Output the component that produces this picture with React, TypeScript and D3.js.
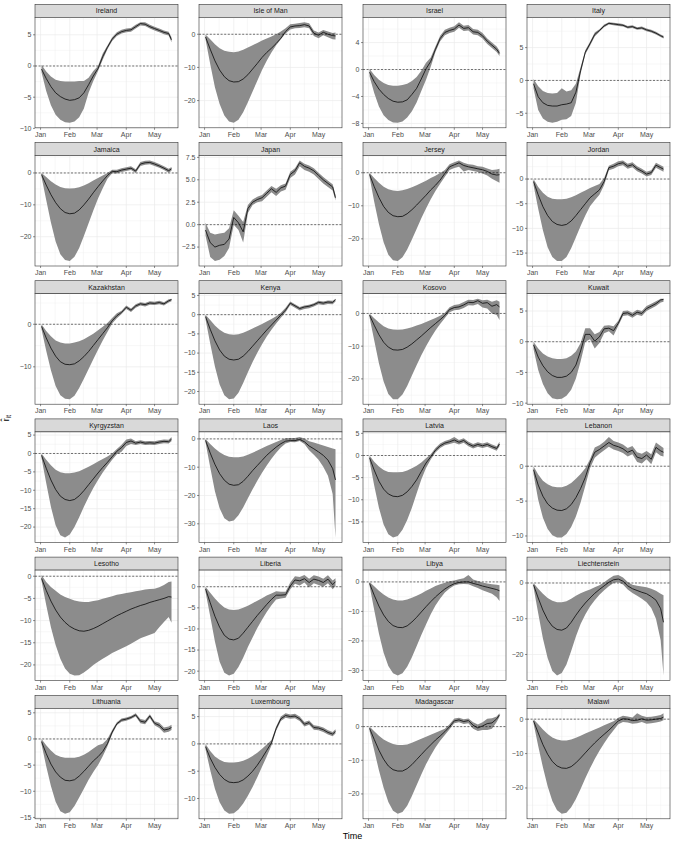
import React from 'react';
import * as d3 from 'd3';

// Day-of-year offsets (0 = Jan 1, 2020) at which the estimates are read
const DAYS = [1, 6, 11, 16, 21, 26, 31, 36, 41, 46, 51, 56, 61, 66, 71, 76, 81, 86, 91, 96, 101, 106, 111, 116, 121, 126, 131, 136, 139];
const MONTH_DAYS = [0, 31, 60, 91, 121];
const MONTH_LABELS = ['Jan', 'Feb', 'Mar', 'Apr', 'May'];

const irelandMean = [-0.5,-2.0,-3.3,-4.3,-4.9,-5.3,-5.5,-5.4,-5.1,-4.3,-3.0,-1.6,-0.4,1.5,3.0,4.3,5.1,5.5,5.7,5.8,6.3,6.8,6.7,6.3,6.0,5.7,5.4,5.2,4.2];
const irelandLo = [-1.0,-4.0,-6.3,-7.8,-8.6,-9.0,-9.1,-8.9,-8.2,-6.8,-4.3,-2.4,-0.8,1.0,2.7,4.0,4.8,5.2,5.4,5.5,6.0,6.5,6.4,6.0,5.7,5.4,5.1,4.9,3.8];
const irelandHi = [0.2,-0.9,-1.7,-2.2,-2.4,-2.5,-2.5,-2.5,-2.4,-2.4,-1.9,-0.8,0.0,2.0,3.3,4.6,5.4,5.8,6.0,6.1,6.6,7.0,7.0,6.6,6.3,6.0,5.7,5.5,4.6];
const irelandTicks = [-10, -5, 0, 5];

const isleOfManMean = [-0.8,-4.5,-8.0,-10.8,-12.8,-14.0,-14.4,-14.3,-13.5,-12.2,-10.5,-8.8,-7.0,-5.5,-4.2,-2.8,-1.2,0.8,2.2,2.5,2.6,2.9,2.5,0.3,-0.3,0.6,0.0,-0.4,-0.5];
const isleOfManLo = [-1.5,-9.0,-16.0,-21.0,-24.5,-26.3,-26.7,-25.8,-23.5,-20.5,-17.3,-14.0,-10.8,-8.0,-5.5,-3.3,-1.5,0.2,1.4,1.8,1.9,2.1,1.8,-0.5,-1.2,-0.3,-0.9,-1.5,-1.6];
const isleOfManHi = [-0.1,-1.5,-3.0,-4.2,-5.0,-5.3,-5.4,-5.2,-4.7,-4.0,-3.3,-2.6,-1.9,-1.3,-0.7,0.0,0.8,1.8,3.0,3.2,3.4,3.6,3.3,1.1,0.5,1.3,0.8,0.4,0.5];
const isleOfManTicks = [-20, -10, 0];

const israelMean = [-0.4,-1.8,-2.9,-3.7,-4.3,-4.7,-4.85,-4.8,-4.5,-3.7,-2.8,-1.4,0.1,1.2,3.0,4.6,5.5,5.8,6.0,6.6,6.1,6.2,5.6,5.5,5.0,4.2,3.6,3.0,2.4];
const israelLo = [-1.0,-3.5,-5.5,-6.8,-7.5,-7.85,-7.9,-7.7,-7.1,-6.2,-4.9,-3.2,-1.5,0.4,2.6,4.2,5.1,5.4,5.6,6.2,5.7,5.8,5.2,5.1,4.6,3.8,3.2,2.6,2.0];
const israelHi = [0.1,-0.8,-1.5,-2.0,-2.3,-2.4,-2.4,-2.3,-2.1,-1.7,-1.1,-0.2,1.0,1.8,3.4,5.0,5.9,6.2,6.4,7.0,6.5,6.6,6.0,5.9,5.4,4.6,4.0,3.4,2.8];
const israelTicks = [-8, -4, 0, 4];

const italyMean = [-0.5,-2.5,-3.4,-3.8,-3.9,-3.9,-3.7,-3.6,-3.4,-1.8,1.5,4.3,5.6,7.0,7.6,8.3,8.7,8.6,8.5,8.4,8.1,8.2,7.9,8.0,7.7,7.5,7.2,6.8,6.6];
const italyLo = [-1.2,-4.5,-5.8,-6.3,-6.45,-6.3,-6.0,-5.9,-5.4,-3.4,1.0,4.0,5.3,6.7,7.4,8.1,8.5,8.4,8.3,8.2,7.9,8.0,7.7,7.8,7.5,7.3,7.0,6.6,6.4];
const italyHi = [0.2,-0.9,-1.6,-1.9,-2.0,-1.9,-1.2,-1.7,-1.5,-0.5,2.0,4.6,5.9,7.3,7.8,8.5,8.85,8.8,8.7,8.6,8.3,8.4,8.1,8.2,7.9,7.7,7.4,7.0,6.8];
const italyTicks = [-5, 0, 5];

const jamaicaMean = [-0.5,-3.8,-6.8,-9.3,-11.2,-12.4,-12.8,-12.6,-11.6,-10.0,-8.2,-6.2,-4.3,-2.5,-0.8,0.5,0.4,0.9,1.2,1.5,0.6,2.8,3.2,3.3,2.8,2.2,1.5,0.7,1.3];
const jamaicaLo = [-1.2,-8.5,-15.5,-21.5,-25.5,-27.3,-27.6,-26.3,-23.5,-19.8,-15.8,-11.8,-8.0,-4.8,-1.8,-0.1,-0.2,0.3,0.6,0.9,0.0,2.2,2.6,2.7,2.2,1.6,0.9,0.1,0.7];
const jamaicaHi = [0.0,-1.3,-2.6,-3.6,-4.4,-4.8,-4.9,-4.8,-4.5,-3.9,-3.2,-2.4,-1.6,-0.8,0.0,1.0,1.0,1.5,1.8,2.1,1.2,3.4,3.8,3.9,3.4,2.8,2.1,1.3,1.9];
const jamaicaTicks = [-20, -10, 0];

const japanMean = [-0.6,-2.0,-2.5,-2.3,-2.2,-1.6,0.8,0.2,-0.8,1.8,2.5,2.8,3.0,3.5,4.0,3.6,4.1,4.3,5.6,6.0,6.9,6.5,6.3,6.0,5.5,5.0,4.6,4.2,3.0];
const japanLo = [-1.2,-3.6,-4.05,-3.9,-3.5,-2.6,0.0,-0.6,-2.0,1.3,2.2,2.5,2.6,3.1,3.6,3.2,3.7,3.9,5.2,5.6,6.5,6.1,5.9,5.6,5.1,4.6,4.2,3.8,2.7];
const japanHi = [0.2,-0.9,-1.1,-1.0,-0.9,-0.4,1.6,1.0,0.3,2.2,2.8,3.1,3.3,3.8,4.3,4.0,4.4,4.6,5.9,6.3,7.15,6.8,6.6,6.3,5.8,5.3,4.9,4.5,3.3];
const japanTicks = [-2.5, 0, 2.5, 5, 7.5];

const jerseyMean = [-0.5,-4.2,-7.5,-10.2,-12.0,-13.0,-13.3,-13.2,-12.4,-11.2,-9.8,-8.3,-6.8,-5.2,-3.8,-2.2,-0.2,1.8,2.4,3.0,2.2,1.8,1.5,1.2,0.9,0.4,-0.4,-0.7,-0.6];
const jerseyLo = [-1.2,-8.8,-15.5,-21.0,-24.8,-26.5,-26.7,-25.6,-23.2,-20.2,-17.0,-13.8,-10.8,-8.0,-5.5,-3.3,-1.2,0.8,1.4,1.8,0.4,0.8,0.5,0.2,-0.2,-0.8,-1.8,-2.6,-3.0];
const jerseyHi = [0.0,-1.6,-3.0,-4.2,-5.0,-5.4,-5.5,-5.3,-4.9,-4.4,-3.8,-3.1,-2.4,-1.6,-0.9,-0.1,0.8,2.6,3.2,3.7,3.0,2.6,2.4,2.0,1.8,1.3,0.8,1.0,1.2];
const jerseyTicks = [-20, -10, 0];

const jordanMean = [-0.5,-3.2,-5.6,-7.4,-8.6,-9.2,-9.4,-9.2,-8.5,-7.4,-6.2,-5.0,-3.8,-3.0,-2.2,-0.5,2.3,2.6,3.1,3.3,2.6,2.9,2.1,1.6,1.0,1.3,2.8,2.3,2.0];
const jordanLo = [-1.2,-6.0,-10.4,-13.8,-15.8,-16.6,-16.6,-15.8,-14.0,-11.8,-9.5,-7.4,-5.5,-4.3,-3.2,-1.2,1.8,2.1,2.6,2.8,2.1,2.4,1.6,1.1,0.5,0.8,2.3,1.8,1.5];
const jordanHi = [0.0,-1.6,-2.8,-3.6,-4.0,-4.1,-4.1,-4.0,-3.7,-3.3,-2.8,-2.3,-1.8,-1.4,-1.0,0.2,2.7,3.1,3.6,3.75,3.1,3.4,2.6,2.1,1.5,1.8,3.3,2.8,2.5];
const jordanTicks = [-15, -10, -5, 0];

const kazakhstanMean = [-0.5,-3.2,-5.6,-7.5,-8.8,-9.4,-9.5,-9.3,-8.6,-7.6,-6.4,-5.0,-3.6,-2.2,-0.8,0.8,2.0,2.8,4.0,3.3,4.3,4.8,4.6,5.0,4.9,5.1,4.8,5.5,5.8];
const kazakhstanLo = [-1.2,-6.2,-10.8,-14.5,-16.7,-17.5,-17.6,-16.8,-15.0,-12.8,-10.5,-8.2,-6.0,-3.8,-1.8,0.2,1.4,2.4,3.6,2.9,3.9,4.4,4.2,4.6,4.5,4.7,4.4,5.1,5.4];
const kazakhstanHi = [0.0,-1.6,-2.8,-3.8,-4.3,-4.5,-4.5,-4.3,-4.0,-3.5,-2.9,-2.2,-1.4,-0.6,0.3,1.5,2.6,3.2,4.4,3.7,4.7,5.2,5.0,5.4,5.3,5.5,5.2,5.9,6.0];
const kazakhstanTicks = [-10, 0];

const kenyaMean = [-0.5,-3.8,-6.8,-9.2,-10.8,-11.6,-11.8,-11.6,-10.8,-9.6,-8.2,-6.8,-5.4,-4.0,-2.7,-1.4,-0.1,1.2,3.0,2.3,1.6,2.0,2.2,2.6,3.2,3.0,3.3,3.2,3.9];
const kenyaLo = [-1.2,-7.5,-13.5,-18.2,-21.0,-22.0,-21.8,-20.3,-17.8,-15.0,-12.3,-9.9,-7.7,-5.7,-3.9,-2.3,-0.8,0.6,2.5,1.8,1.1,1.5,1.7,2.1,2.7,2.5,2.8,2.7,3.4];
const kenyaHi = [0.0,-1.4,-2.8,-3.9,-4.7,-5.1,-5.2,-5.1,-4.7,-4.2,-3.6,-3.0,-2.4,-1.8,-1.1,-0.4,0.5,1.8,3.4,2.7,2.0,2.4,2.6,3.0,3.6,3.4,3.7,3.6,4.15];
const kenyaTicks = [-20, -15, -10, -5, 0, 5];

const kosovoMean = [-0.5,-3.6,-6.5,-8.8,-10.3,-11.1,-11.2,-11.0,-10.3,-9.3,-8.1,-6.9,-5.6,-4.3,-3.1,-1.9,-0.6,1.2,1.8,2.0,2.6,3.4,3.3,3.9,3.1,3.3,2.2,2.7,2.0];
const kosovoLo = [-1.2,-8.2,-15.2,-20.8,-24.6,-26.2,-26.2,-24.8,-22.2,-19.0,-15.8,-12.8,-10.0,-7.5,-5.2,-3.2,-1.4,0.4,1.0,1.1,1.7,2.5,2.4,2.9,1.8,1.5,0.0,-0.5,-2.0];
const kosovoHi = [0.0,-1.5,-2.8,-3.9,-4.6,-4.9,-5.0,-4.9,-4.6,-4.2,-3.7,-3.2,-2.6,-2.0,-1.4,-0.7,0.2,1.9,2.6,2.8,3.5,4.2,4.1,4.5,4.0,4.2,3.6,4.0,3.6];
const kosovoTicks = [-20, -10, 0];

const kuwaitMean = [-0.5,-2.5,-3.9,-4.9,-5.5,-5.8,-5.8,-5.6,-5.0,-3.8,-1.5,1.2,1.2,0.1,0.8,2.1,2.2,1.8,3.0,4.6,4.7,4.3,4.8,4.6,5.4,5.8,6.2,6.8,6.9];
const kuwaitLo = [-1.2,-4.6,-6.9,-8.4,-9.2,-9.35,-9.3,-8.8,-7.8,-6.0,-3.2,0.0,0.4,-1.1,-0.2,1.4,1.7,1.0,2.6,4.2,4.3,3.9,4.4,4.2,5.0,5.4,5.8,6.4,6.5];
const kuwaitHi = [0.0,-1.1,-1.9,-2.4,-2.7,-2.8,-2.8,-2.7,-2.3,-1.6,-0.2,2.2,2.2,1.2,1.6,2.6,2.7,2.5,3.4,5.0,5.1,4.7,5.2,5.0,5.8,6.2,6.6,7.0,7.0];
const kuwaitTicks = [-10, -5, 0, 5];

const kyrgyzstanMean = [-0.5,-4.0,-7.2,-9.8,-11.6,-12.5,-12.8,-12.5,-11.5,-10.1,-8.5,-6.9,-5.3,-3.8,-2.4,-0.9,0.6,1.6,3.0,3.4,2.8,3.1,2.8,2.9,2.8,3.1,3.3,3.2,3.9];
const kyrgyzstanLo = [-1.2,-8.0,-14.5,-19.5,-22.2,-22.8,-22.0,-20.0,-17.3,-14.5,-11.8,-9.4,-7.2,-5.2,-3.4,-1.7,-0.2,0.5,2.0,2.6,2.3,2.6,2.3,2.4,2.3,2.6,2.8,2.7,3.3];
const kyrgyzstanHi = [0.0,-1.7,-3.2,-4.4,-5.1,-5.4,-5.4,-5.2,-4.8,-4.2,-3.6,-2.9,-2.2,-1.5,-0.8,0.0,1.2,2.4,3.8,4.1,3.3,3.6,3.3,3.4,3.3,3.6,3.8,3.7,4.5];
const kyrgyzstanTicks = [-20, -15, -10, -5, 0, 5];

const laosMean = [-0.5,-5.0,-9.0,-12.3,-14.6,-16.0,-16.4,-16.2,-15.0,-13.2,-11.2,-9.4,-7.6,-5.8,-4.3,-2.9,-1.7,-0.8,-0.6,-0.6,-0.2,-1.0,-2.5,-3.5,-4.6,-5.8,-7.5,-10.5,-14.5];
const laosLo = [-1.2,-10.0,-18.5,-24.5,-28.0,-29.2,-28.8,-27.0,-24.2,-21.0,-17.8,-14.8,-12.0,-9.4,-7.0,-4.9,-3.0,-1.6,-1.1,-1.2,-0.7,-1.8,-4.0,-5.6,-7.4,-9.8,-13.0,-19.5,-34.8];
const laosHi = [0.0,-1.8,-3.4,-4.7,-5.7,-6.3,-6.5,-6.5,-6.2,-5.6,-4.9,-4.1,-3.3,-2.5,-1.8,-1.1,-0.4,0.2,0.3,0.3,0.7,0.1,-0.8,-1.3,-1.8,-2.3,-2.9,-3.4,-3.7];
const laosTicks = [-30, -20, -10, 0];

const latviaMean = [-0.5,-3.3,-5.8,-7.6,-8.7,-9.2,-9.3,-9.0,-8.2,-7.0,-5.5,-3.6,-1.7,-0.3,1.2,2.2,2.8,3.1,3.5,3.0,3.4,2.6,2.1,2.5,2.2,2.5,2.0,1.6,2.6];
const latviaLo = [-1.2,-6.8,-11.8,-15.6,-17.8,-18.5,-18.2,-16.8,-14.6,-11.8,-8.6,-5.4,-2.8,-0.9,0.7,1.7,2.3,2.6,2.9,2.5,2.9,2.1,1.6,2.0,1.7,2.0,1.5,1.1,2.1];
const latviaHi = [0.0,-1.4,-2.5,-3.3,-3.7,-3.8,-3.8,-3.7,-3.4,-2.9,-2.3,-1.6,-0.6,0.3,1.7,2.7,3.3,3.6,4.2,3.5,3.9,3.1,2.6,3.0,2.7,3.0,2.5,2.1,3.1];
const latviaTicks = [-15, -10, -5, 0, 5];

const lebanonMean = [-0.5,-2.7,-4.3,-5.4,-6.0,-6.3,-6.35,-6.1,-5.5,-4.5,-3.2,-1.6,0.5,2.0,2.4,2.9,3.4,3.0,2.8,2.5,2.0,2.3,1.3,1.1,1.6,1.0,2.7,2.2,2.0];
const lebanonLo = [-1.1,-4.8,-7.4,-9.0,-9.9,-10.2,-10.2,-9.7,-8.7,-7.2,-5.2,-2.8,-0.3,1.2,1.8,2.3,2.8,2.4,2.2,1.9,1.4,1.7,0.6,0.4,1.0,0.3,2.0,1.5,1.4];
const lebanonHi = [0.0,-1.2,-2.1,-2.6,-2.9,-3.0,-3.0,-2.8,-2.4,-1.8,-1.1,-0.3,1.0,2.7,3.0,3.5,4.2,3.6,3.4,3.1,2.6,2.9,2.0,1.8,2.2,1.7,3.4,2.9,2.6];
const lebanonTicks = [-10, -5, 0];

const lesothoMean = [-0.5,-3.2,-5.6,-7.6,-9.2,-10.4,-11.3,-11.9,-12.3,-12.4,-12.2,-11.8,-11.3,-10.7,-10.1,-9.5,-8.9,-8.4,-7.9,-7.4,-7.0,-6.6,-6.3,-5.9,-5.6,-5.3,-5.0,-4.6,-4.7];
const lesothoLo = [-1.0,-6.5,-11.5,-15.5,-18.6,-20.8,-22.0,-22.4,-22.3,-21.7,-20.9,-20.0,-19.3,-18.6,-18.0,-17.3,-16.8,-16.3,-15.8,-15.2,-14.6,-14.0,-13.6,-13.2,-12.8,-11.5,-10.3,-9.2,-10.5];
const lesothoHi = [0.25,-1.3,-2.4,-3.3,-4.1,-4.7,-5.1,-5.5,-5.7,-5.8,-5.8,-5.6,-5.4,-5.1,-4.8,-4.5,-4.2,-4.0,-3.8,-3.6,-3.4,-3.2,-3.0,-2.9,-2.8,-2.5,-2.0,-1.3,-1.2];
const lesothoTicks = [-20, -15, -10, -5, 0];

const liberiaMean = [-0.5,-3.8,-7.0,-9.6,-11.5,-12.4,-12.6,-12.2,-11.0,-9.6,-8.2,-6.8,-5.5,-4.2,-3.0,-2.0,-2.0,-1.9,0.2,1.6,1.4,1.9,1.0,1.8,1.5,1.0,1.8,0.5,1.2];
const liberiaLo = [-1.2,-7.0,-13.0,-17.8,-20.4,-21.05,-20.6,-19.0,-16.8,-14.3,-12.0,-9.8,-7.8,-6.0,-4.4,-3.0,-2.8,-2.6,-0.6,0.7,0.3,1.0,-0.2,0.8,0.4,0.0,0.8,-0.6,0.2];
const liberiaHi = [0.0,-1.4,-2.8,-4.0,-4.9,-5.4,-5.5,-5.4,-5.0,-4.5,-3.9,-3.3,-2.7,-2.1,-1.6,-1.1,-1.2,-1.2,1.0,2.5,2.3,2.75,1.9,2.7,2.4,1.9,2.7,1.5,2.0];
const liberiaTicks = [-20, -15, -10, -5, 0];

const libyaMean = [-0.5,-4.5,-8.2,-11.2,-13.4,-14.8,-15.4,-15.5,-14.9,-13.6,-12.0,-10.2,-8.4,-6.7,-5.1,-3.7,-2.4,-1.4,-0.6,-0.2,0.0,0.0,-0.5,-0.9,-1.4,-1.8,-2.2,-2.6,-3.0];
const libyaLo = [-1.2,-9.5,-17.5,-24.0,-28.5,-31.0,-31.75,-31.0,-28.8,-25.5,-21.8,-18.0,-14.4,-11.0,-8.0,-5.6,-3.6,-2.2,-1.2,-0.8,-0.7,-0.8,-1.5,-2.1,-2.8,-3.4,-4.0,-5.2,-6.5];
const libyaHi = [0.0,-1.5,-3.0,-4.3,-5.3,-6.0,-6.3,-6.3,-6.0,-5.4,-4.7,-3.9,-3.0,-2.2,-1.4,-0.8,-0.3,0.2,0.5,0.9,1.2,2.3,0.8,0.3,-0.2,-0.5,-0.8,-1.0,-1.1];
const libyaTicks = [-30, -20, -10, 0];

const liechtensteinMean = [-0.5,-4.2,-7.6,-10.3,-12.1,-13.0,-13.2,-12.6,-11.0,-9.0,-7.2,-5.6,-4.2,-2.9,-1.8,-0.8,0.2,0.9,1.1,0.5,-0.8,-1.6,-2.1,-2.6,-3.0,-3.8,-4.8,-7.2,-11.0];
const liechtensteinLo = [-1.2,-8.5,-15.5,-21.0,-24.6,-25.9,-25.2,-22.8,-19.0,-15.0,-11.5,-8.8,-6.6,-4.8,-3.3,-2.0,-0.9,0.0,0.2,-0.4,-1.8,-2.8,-3.6,-4.4,-5.4,-7.0,-10.0,-16.0,-25.9];
const liechtensteinHi = [0.0,-1.6,-3.0,-4.2,-5.0,-5.4,-5.4,-5.1,-4.4,-3.6,-2.9,-2.3,-1.8,-1.2,-0.6,0.2,1.2,2.0,2.2,1.5,0.3,-0.5,-0.8,-1.0,-1.2,-1.6,-2.2,-3.0,-3.4];
const liechtensteinTicks = [-20, -10, 0];

const lithuaniaMean = [-0.5,-2.8,-4.8,-6.3,-7.3,-7.9,-8.0,-7.8,-7.1,-6.2,-5.2,-4.2,-3.4,-2.4,-0.9,1.3,2.9,3.6,3.8,4.1,4.6,3.4,3.2,4.4,3.0,2.6,1.7,1.9,2.2];
const lithuaniaLo = [-1.0,-5.2,-9.0,-12.0,-13.8,-14.3,-14.0,-12.8,-11.2,-9.5,-7.8,-6.3,-5.0,-3.3,-1.4,0.9,2.6,3.3,3.5,3.8,4.3,3.0,2.8,4.0,2.6,2.1,1.2,1.4,1.7];
const lithuaniaHi = [0.0,-1.2,-2.2,-3.0,-3.4,-3.6,-3.6,-3.6,-3.4,-3.0,-2.5,-1.8,-1.2,-0.9,0.0,1.7,3.2,3.9,4.1,4.4,4.9,3.8,3.6,4.7,3.4,3.1,2.2,2.4,2.7];
const lithuaniaTicks = [-15, -10, -5, 0, 5];

const luxembourgMean = [-0.5,-2.6,-4.3,-5.6,-6.5,-7.0,-7.1,-7.0,-6.6,-5.9,-5.0,-3.9,-2.6,-1.2,0.2,2.8,4.6,5.2,5.0,5.1,4.6,3.6,3.9,3.0,2.9,2.6,2.1,1.8,2.3];
const luxembourgLo = [-1.0,-4.8,-8.2,-10.7,-12.2,-12.8,-12.7,-12.0,-10.9,-9.5,-7.9,-6.1,-4.2,-2.3,-0.3,2.4,4.2,4.8,4.6,4.7,4.2,3.2,3.5,2.6,2.5,2.2,1.7,1.4,1.9];
const luxembourgHi = [0.0,-1.3,-2.3,-2.9,-3.3,-3.4,-3.4,-3.3,-3.1,-2.7,-2.2,-1.6,-0.9,-0.1,0.7,3.2,5.0,5.6,5.4,5.5,5.0,4.0,4.3,3.4,3.3,3.0,2.5,2.2,2.7];
const luxembourgTicks = [-10, -5, 0, 5];

const madagascarMean = [-0.5,-3.8,-7.0,-9.7,-11.7,-12.8,-13.2,-13.2,-12.5,-11.3,-9.8,-8.3,-6.8,-5.4,-4.0,-2.8,-1.5,0.0,1.7,2.0,1.5,1.8,0.4,-0.4,0.2,0.9,1.1,2.3,3.5];
const madagascarLo = [-1.2,-7.0,-13.0,-18.2,-22.4,-25.0,-25.9,-25.4,-23.5,-20.6,-17.4,-14.2,-11.2,-8.6,-6.2,-4.2,-2.5,-0.8,1.0,1.3,0.8,1.0,-0.6,-1.3,-1.0,-1.0,-0.6,1.4,2.9];
const madagascarHi = [0.0,-1.4,-2.7,-3.8,-4.6,-5.2,-5.5,-5.5,-5.3,-4.8,-4.2,-3.6,-3.0,-2.4,-1.8,-1.2,-0.6,0.7,2.4,2.6,2.2,2.4,1.3,0.6,1.3,2.3,2.5,3.0,3.95];
const madagascarTicks = [-20, -10, 0];

const malawiMean = [-0.5,-4.0,-7.4,-10.2,-12.3,-13.6,-14.2,-14.3,-13.8,-12.7,-11.3,-9.8,-8.3,-6.9,-5.6,-4.4,-3.2,-1.9,-0.5,0.1,0.0,-0.4,-0.3,0.1,-0.3,-0.2,0.0,0.2,0.6];
const malawiLo = [-1.2,-7.8,-14.0,-19.5,-23.8,-26.5,-27.5,-27.2,-25.6,-23.2,-20.3,-17.2,-14.3,-11.6,-9.2,-7.0,-5.0,-3.2,-1.5,-0.8,-1.0,-1.3,-1.2,-0.8,-1.3,-1.2,-1.0,-0.7,-0.3];
const malawiHi = [0.0,-1.5,-3.0,-4.3,-5.3,-5.9,-6.2,-6.2,-5.9,-5.4,-4.8,-4.2,-3.6,-3.0,-2.4,-1.8,-1.2,-0.6,0.4,1.0,0.8,0.5,1.7,1.0,0.6,0.7,0.9,1.2,1.7];
const malawiTicks = [-20, -10, 0];

const COUNTRIES = [
  { name: 'Ireland', mean: irelandMean, lo: irelandLo, hi: irelandHi, ticks: irelandTicks },
  { name: 'Isle of Man', mean: isleOfManMean, lo: isleOfManLo, hi: isleOfManHi, ticks: isleOfManTicks },
  { name: 'Israel', mean: israelMean, lo: israelLo, hi: israelHi, ticks: israelTicks },
  { name: 'Italy', mean: italyMean, lo: italyLo, hi: italyHi, ticks: italyTicks },
  { name: 'Jamaica', mean: jamaicaMean, lo: jamaicaLo, hi: jamaicaHi, ticks: jamaicaTicks },
  { name: 'Japan', mean: japanMean, lo: japanLo, hi: japanHi, ticks: japanTicks },
  { name: 'Jersey', mean: jerseyMean, lo: jerseyLo, hi: jerseyHi, ticks: jerseyTicks },
  { name: 'Jordan', mean: jordanMean, lo: jordanLo, hi: jordanHi, ticks: jordanTicks },
  { name: 'Kazakhstan', mean: kazakhstanMean, lo: kazakhstanLo, hi: kazakhstanHi, ticks: kazakhstanTicks },
  { name: 'Kenya', mean: kenyaMean, lo: kenyaLo, hi: kenyaHi, ticks: kenyaTicks },
  { name: 'Kosovo', mean: kosovoMean, lo: kosovoLo, hi: kosovoHi, ticks: kosovoTicks },
  { name: 'Kuwait', mean: kuwaitMean, lo: kuwaitLo, hi: kuwaitHi, ticks: kuwaitTicks },
  { name: 'Kyrgyzstan', mean: kyrgyzstanMean, lo: kyrgyzstanLo, hi: kyrgyzstanHi, ticks: kyrgyzstanTicks },
  { name: 'Laos', mean: laosMean, lo: laosLo, hi: laosHi, ticks: laosTicks },
  { name: 'Latvia', mean: latviaMean, lo: latviaLo, hi: latviaHi, ticks: latviaTicks },
  { name: 'Lebanon', mean: lebanonMean, lo: lebanonLo, hi: lebanonHi, ticks: lebanonTicks },
  { name: 'Lesotho', mean: lesothoMean, lo: lesothoLo, hi: lesothoHi, ticks: lesothoTicks },
  { name: 'Liberia', mean: liberiaMean, lo: liberiaLo, hi: liberiaHi, ticks: liberiaTicks },
  { name: 'Libya', mean: libyaMean, lo: libyaLo, hi: libyaHi, ticks: libyaTicks },
  { name: 'Liechtenstein', mean: liechtensteinMean, lo: liechtensteinLo, hi: liechtensteinHi, ticks: liechtensteinTicks },
  { name: 'Lithuania', mean: lithuaniaMean, lo: lithuaniaLo, hi: lithuaniaHi, ticks: lithuaniaTicks },
  { name: 'Luxembourg', mean: luxembourgMean, lo: luxembourgLo, hi: luxembourgHi, ticks: luxembourgTicks },
  { name: 'Madagascar', mean: madagascarMean, lo: madagascarLo, hi: madagascarHi, ticks: madagascarTicks },
  { name: 'Malawi', mean: malawiMean, lo: malawiLo, hi: malawiHi, ticks: malawiTicks },
];

const FONT = "'Liberation Sans', Arial, Helvetica, sans-serif";
const W = 675;
const H = 844;
const N_COLS = 4;
const COL_LEFT0 = 35;
const COL_PITCH = 164;
const ROW_TOP0 = 4.3;
const ROW_PITCH = 138.2;
const STRIP_H = 13;
const PANEL_W = 143;
const PANEL_H = 110.5;

function fmtTick(v: number, decimals: boolean) {
  const s = decimals ? v.toFixed(1) : String(v);
  return s.replace('-', '\u2212');
}

function minorBreaks(major: number[], lo: number, hi: number) {
  if (major.length < 2) return [];
  const first = major[0] - (major[1] - major[0]);
  const last = major[major.length - 1] + (major[major.length - 1] - major[major.length - 2]);
  const ext = [first, ...major, last];
  const out: number[] = [];
  for (let i = 0; i < ext.length - 1; i++) {
    const m = (ext[i] + ext[i + 1]) / 2;
    if (m >= lo && m <= hi) out.push(m);
  }
  return out;
}

function Panel({ c, idx }: { c: typeof COUNTRIES[number]; idx: number }) {
  const col = idx % N_COLS;
  const row = Math.floor(idx / N_COLS);
  const left = COL_LEFT0 + col * COL_PITCH;
  const top = ROW_TOP0 + row * ROW_PITCH;

  const [d0, d1] = d3.extent(DAYS) as [number, number];
  const xpad = (d1 - d0) * 0.05;
  const x = d3.scaleLinear().domain([d0 - xpad, d1 + xpad]).range([0, PANEL_W]);

  const ymin = Math.min(d3.min(c.lo) as number, 0);
  const ymax = Math.max(d3.max(c.hi) as number, 0);
  const ypad = (ymax - ymin) * 0.05;
  const yDom: [number, number] = [ymin - ypad, ymax + ypad];
  const y = d3.scaleLinear().domain(yDom).range([PANEL_H, 0]);

  const area = d3.area<number>()
    .x((_, i) => x(DAYS[i]))
    .y0((_, i) => y(c.lo[i]))
    .y1((_, i) => y(c.hi[i]));
  const line = d3.line<number>()
    .x((_, i) => x(DAYS[i]))
    .y((v) => y(v));

  const xMinor = minorBreaks(MONTH_DAYS, x.domain()[0], x.domain()[1]);
  const yMinor = minorBreaks(c.ticks, yDom[0], yDom[1]);
  const decimals = c.ticks.some((t) => !Number.isInteger(t));

  return (
    <g transform={`translate(${left},${top})`}>
      <rect x={0} y={0} width={PANEL_W} height={STRIP_H} fill="#D9D9D9" stroke="#333333" strokeWidth={0.6} />
      <text x={PANEL_W / 2} y={STRIP_H / 2 + 2.5} textAnchor="middle" fontSize={7} fill="#1A1A1A" fontFamily={FONT}>
        {c.name}
      </text>
      <g transform={`translate(0,${STRIP_H})`}>
        <rect x={0} y={0} width={PANEL_W} height={PANEL_H} fill="#FFFFFF" />
        {xMinor.map((d) => (
          <line key={`xm${d}`} x1={x(d)} x2={x(d)} y1={0} y2={PANEL_H} stroke="#EBEBEB" strokeWidth={0.35} />
        ))}
        {yMinor.map((v) => (
          <line key={`ym${v}`} x1={0} x2={PANEL_W} y1={y(v)} y2={y(v)} stroke="#EBEBEB" strokeWidth={0.35} />
        ))}
        {MONTH_DAYS.map((d) => (
          <line key={`xg${d}`} x1={x(d)} x2={x(d)} y1={0} y2={PANEL_H} stroke="#EBEBEB" strokeWidth={0.7} />
        ))}
        {c.ticks.map((v) => (
          <line key={`yg${v}`} x1={0} x2={PANEL_W} y1={y(v)} y2={y(v)} stroke="#EBEBEB" strokeWidth={0.7} />
        ))}
        <path d={area(c.mean) || ''} fill="#8C8C8C" stroke="none" />
        <line x1={0} x2={PANEL_W} y1={y(0)} y2={y(0)} stroke="#000000" strokeWidth={0.55} strokeDasharray="2,1.6" />
        <path d={line(c.mean) || ''} fill="none" stroke="#000000" strokeWidth={0.75} strokeLinejoin="round" />
        <rect x={0} y={0} width={PANEL_W} height={PANEL_H} fill="none" stroke="#333333" strokeWidth={0.6} />
        {/* x axis */}
        {MONTH_DAYS.map((d, i) => (
          <g key={`xt${d}`}>
            <line x1={x(d)} x2={x(d)} y1={PANEL_H} y2={PANEL_H + 2} stroke="#333333" strokeWidth={0.55} />
            <text x={x(d)} y={PANEL_H + 9.2} textAnchor="middle" fontSize={7} fill="#4D4D4D" fontFamily={FONT}>
              {MONTH_LABELS[i]}
            </text>
          </g>
        ))}
        {/* y axis */}
        {c.ticks.map((v) => (
          <g key={`yt${v}`}>
            <line x1={-2} x2={0} y1={y(v)} y2={y(v)} stroke="#333333" strokeWidth={0.55} />
            <text x={-3.5} y={y(v) + 2.4} textAnchor="end" fontSize={7} fill="#4D4D4D" fontFamily={FONT}>
              {fmtTick(v, decimals)}
            </text>
          </g>
        ))}
      </g>
    </g>
  );
}

export default function App() {
  const plotLeft = COL_LEFT0;
  const plotRight = COL_LEFT0 + (N_COLS - 1) * COL_PITCH + PANEL_W;
  return (
    <svg
      width={W}
      height={H}
      viewBox={`0 0 ${W} ${H}`}
      style={{ position: 'absolute', left: 0, top: 0, background: '#FFFFFF' }}
      xmlns="http://www.w3.org/2000/svg"
    >
      <rect x={0} y={0} width={W} height={H} fill="#FFFFFF" />
      {COUNTRIES.map((c, i) => (
        <Panel key={c.name} c={c} idx={i} />
      ))}
      <text x={(plotLeft + plotRight) / 2} y={839} textAnchor="middle" fontSize={9} fill="#000000" fontFamily={FONT}>
        Time
      </text>
      <text transform={`translate(9,418) rotate(-90)`} textAnchor="middle" fontSize={9} fill="#000000" fontFamily={FONT}>
        r̂<tspan fontSize={6.5} dy={2}>it</tspan>
      </text>
    </svg>
  );
}
